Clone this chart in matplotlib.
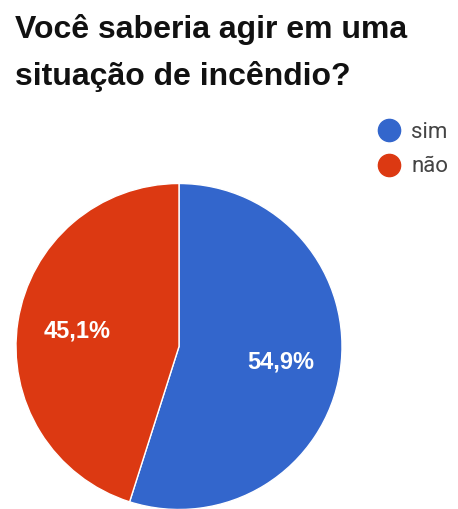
import matplotlib
matplotlib.use("Agg")
import matplotlib.pyplot as plt
from matplotlib.lines import Line2D

# Survey answers
categories = ["sim", "não"]
shares = [54.9, 45.1]
colors = ["#3366CC", "#DC3912"]
title_lines = ["Você saberia agir em uma", "situação de incêndio?"]

W, H = 458, 509
fig = plt.figure(figsize=(W / 100, H / 100), dpi=100)
fig.patch.set_facecolor("white")

# Pie occupies a square box centred at (179, 346.5) px, radius 163 px
cx, cy, r = 179, 346.5, 163
ax = fig.add_axes([(cx - r) / W, (H - cy - r) / H, 2 * r / W, 2 * r / H])
wedges, texts, autotexts = ax.pie(
    shares,
    colors=colors,
    startangle=90,
    counterclock=False,
    autopct=lambda p: f"{p:.1f}%".replace(".", ","),
    pctdistance=0.63,
    wedgeprops=dict(edgecolor="white", linewidth=1),
    textprops=dict(color="white", fontsize=17, fontweight="bold",
                   family="Liberation Sans"),
)
ax.set_xlim(-1, 1)
ax.set_ylim(-1, 1)
ax.set_aspect("equal")
ax.axis("off")

# Title, two lines
for line, base in zip(title_lines, [38, 85]):
    fig.text(15 / W, 1 - base / H, line, fontsize=23, fontweight="bold",
             family="Liberation Sans", color="#111111", va="baseline", ha="left")

# Legend with round markers
handles = [Line2D([], [], marker="o", ls="", color=c, markersize=16) for c in colors]
leg = fig.legend(handles, categories, loc="upper left",
                 bbox_to_anchor=(378 / W, 1 - 122 / H),
                 frameon=False, handlelength=1.0, handletextpad=0.5,
                 labelspacing=0.6, borderpad=0, borderaxespad=0,
                 prop=dict(family="Roboto", size=16))
for t in leg.get_texts():
    t.set_color("#444444")

fig.savefig("out.png", dpi=100, facecolor="white")
